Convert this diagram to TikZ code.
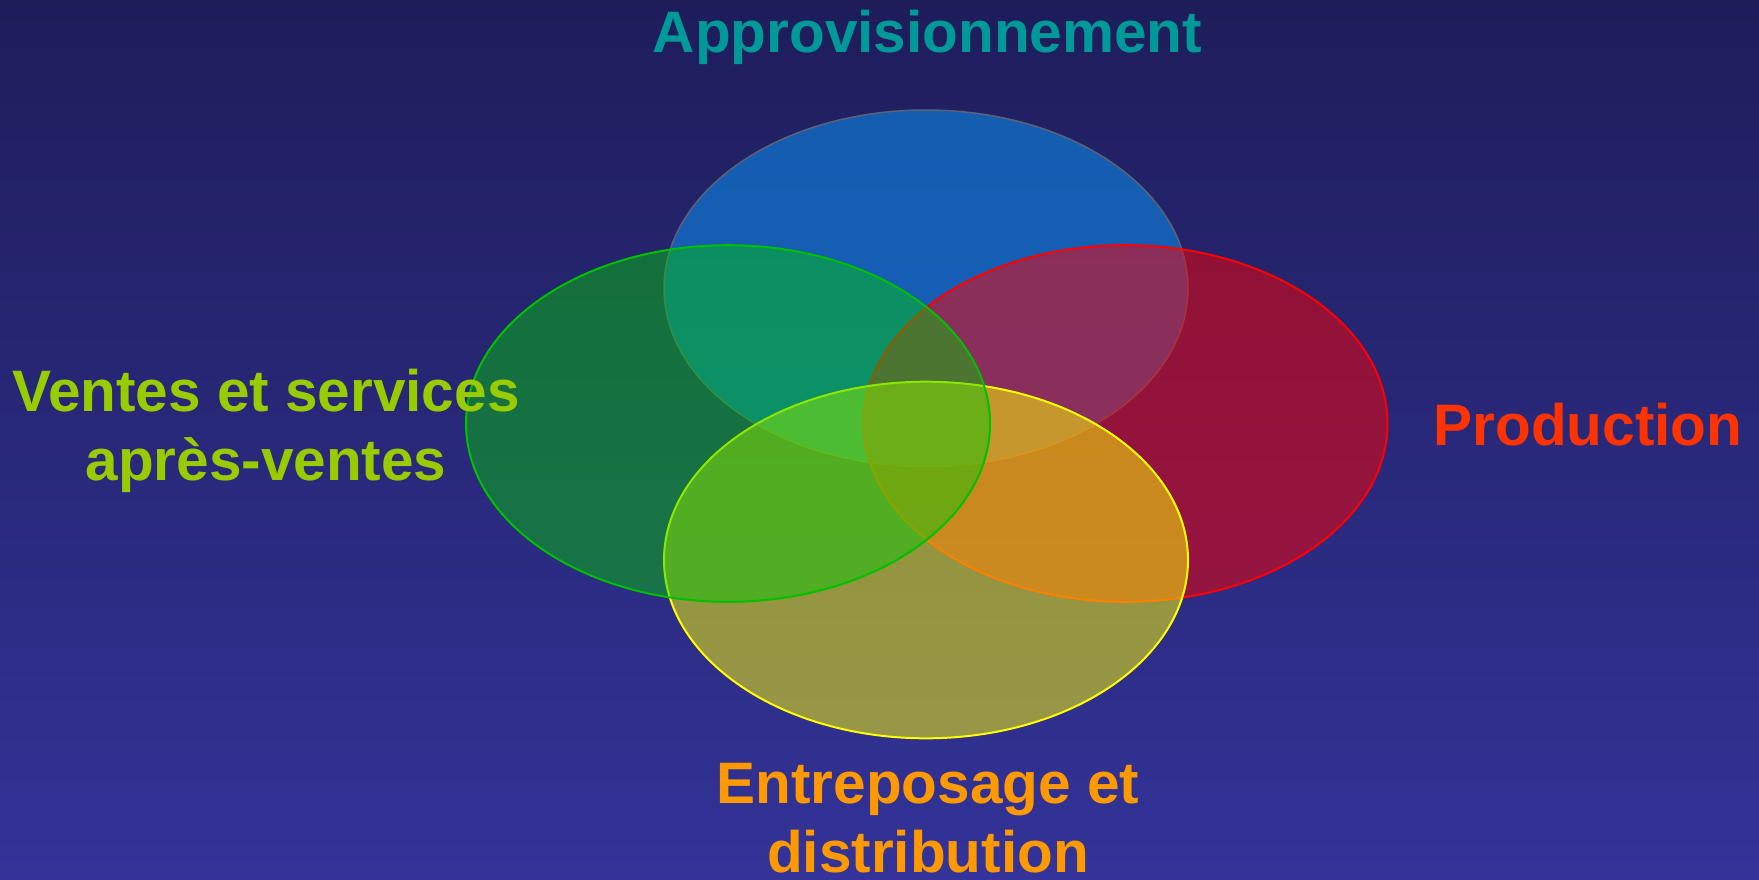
\documentclass[tikz,border=0pt]{standalone}
\usepackage{fontspec}
\setmainfont{Liberation Sans}
\definecolor{bgtop}{RGB}{30,29,90}
\definecolor{bgbot}{RGB}{51,51,153}
\definecolor{cblue}{RGB}{12,134,229}
\definecolor{cbluel}{RGB}{90,98,120}
\definecolor{cred}{RGB}{255,0,0}
\definecolor{cyel}{RGB}{255,255,0}
\definecolor{cgreen}{RGB}{0,204,0}
\definecolor{cgreenl}{RGB}{0,192,0}
\definecolor{tteal}{RGB}{0,153,153}
\definecolor{tlime}{RGB}{153,204,0}
\definecolor{tred}{RGB}{255,51,0}
\definecolor{torange}{RGB}{255,153,0}
\tikzset{
  lbl/.style={font=\fontsize{58.5}{69}\selectfont\bfseries, inner sep=0pt, align=center, anchor=base},
  venn/.style={line width=2pt},
}
\begin{document}
\begin{tikzpicture}[x=1pt,y=-1pt]
\useasboundingbox (0,0) rectangle (1759,879);
\shade[top color=bgtop, bottom color=bgbot] (0,0) rectangle (1759,879);
% ellipses
\path[venn, line width=1.5pt, draw=cbluel, fill=cblue, fill opacity=0.6] (926,288.3) ellipse [x radius=262, y radius=178.3];
\path[venn, draw=cred, fill=cred, fill opacity=0.5] (1125.5,423.5) ellipse [x radius=262, y radius=178.3];
\path[venn, draw=cyel, fill=cyel, fill opacity=0.5] (926,560) ellipse [x radius=262, y radius=178.3];
\path[venn, draw=cgreenl, fill=cgreen, fill opacity=0.45] (728,423.5) ellipse [x radius=262, y radius=178.3];
% labels (anchor=base = baseline of last line)
\node[lbl, text=tteal] (appro) at (927.5,52.3) {Approvisionnement};
\node[lbl, text=tlime] (ventes) at (266,480) {Ventes et services\\après-ventes};
\node[lbl, text=tred] (prod) at (1588,445.7) {Production};
\node[lbl, text=torange] (entre) at (928,872) {Entreposage et\\distribution};
\end{tikzpicture}
\end{document}
